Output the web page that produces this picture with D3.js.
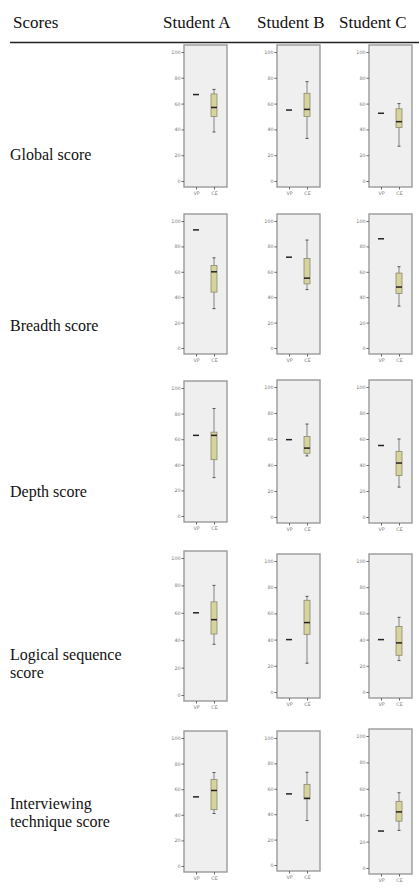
<!DOCTYPE html>
<html>
<head>
<meta charset="utf-8">
<script src="https://cdn.jsdelivr.net/npm/d3@7"></script>
<style>
  body { margin: 0; background: #fff; }
  svg { display: block; }
</style>
</head>
<body>
<div id="chart"></div>
<script>
// Table data
const students = ["Student A", "Student B", "Student C"];
const rowLabels = [
  ["Global score"],
  ["Breadth score"],
  ["Depth score"],
  ["Logical sequence", "score"],
  ["Interviewing", "technique score"]
];
const groups = ["VP", "CE"];
const yTicks = [0, 20, 40, 60, 80, 100];

// VP single score per row (Student A, B, C)
const vpGlobal = [67, 55, 52.5];
const vpBreadth = [93, 71.5, 86];
const vpDepth = [63, 59.5, 55];
const vpLogical = [60, 40, 40];
const vpInterview = [54, 56, 28];

// CE box stats [min, q1, median, q3, max] per student
const ceGlobal = [[38, 50, 57, 67.5, 71], [33, 50, 55.5, 68, 77], [27, 41.5, 46, 56, 60]];
const ceBreadth = [[31, 44, 60, 65, 71], [46, 50.5, 55, 70.5, 85], [33, 43, 48, 59, 64]];
const ceDepth = [[30, 44, 63, 65.5, 84], [47, 49, 53, 62, 71.5], [23, 32, 41.5, 50.5, 60]];
const ceLogical = [[37, 44.5, 55, 68, 80], [22, 44, 53, 70, 73], [24, 28, 37.5, 50, 57]];
const ceInterview = [[41, 44, 59, 67.5, 73], [35, 52, 52.5, 63.5, 73], [28.5, 35.5, 42.5, 50.5, 57]];

const vpRows = [vpGlobal, vpBreadth, vpDepth, vpLogical, vpInterview];
const ceRows = [ceGlobal, ceBreadth, ceDepth, ceLogical, ceInterview];

// Layout
const width = 419, height = 888;
const colX = [184, 277, 369];
const headX = [163, 257, 339];
const panelW = 43;
const panelBounds = [
  [[45, 187], [45, 187], [45, 187]],
  [[214, 354], [214, 354], [214, 354]],
  [[381, 522], [380, 523], [380, 523]],
  [[551, 701], [554, 698], [554, 698]],
  [[731, 872], [731, 871], [729, 874]]
];
const labelY = [160, 331, 497, 660, 809];
const boxFill = "#d6d39c";

const svg = d3.select("#chart").append("svg")
  .attr("width", width)
  .attr("height", height);

// Header
const serif = "'Liberation Serif', 'DejaVu Serif', serif";
svg.append("text")
  .attr("x", 13).attr("y", 28)
  .attr("font-family", serif).attr("font-size", 17)
  .attr("fill", "#111")
  .text("Scores");

svg.selectAll(".head")
  .data(students)
  .enter().append("text")
  .attr("x", (d, i) => headX[i])
  .attr("y", 28)
  .attr("font-family", serif).attr("font-size", 17)
  .attr("fill", "#111")
  .text(d => d);

svg.append("line")
  .attr("x1", 10).attr("x2", 419)
  .attr("y1", 42.5).attr("y2", 42.5)
  .attr("stroke", "#222").attr("stroke-width", 1.3);

// Row labels
rowLabels.forEach((lines, r) => {
  const t = svg.append("text")
    .attr("x", 10)
    .attr("y", labelY[r])
    .attr("font-family", serif).attr("font-size", 16)
    .attr("fill", "#111");
  lines.forEach((ln, k) => {
    t.append("tspan").attr("x", 10).attr("dy", k === 0 ? 0 : 18).text(ln);
  });
});

// Panels
rowLabels.forEach((_, r) => {
  students.forEach((_, c) => {
    const [top, bottom] = panelBounds[r][c];
    const x0 = colX[c];
    const g = svg.append("g");

    const y = d3.scaleLinear().domain([0, 100]).range([bottom - 6, top + 7]);
    const x = d3.scalePoint().domain(groups).range([x0 + 12, x0 + 30]);

    g.append("rect")
      .attr("x", x0).attr("y", top)
      .attr("width", panelW).attr("height", bottom - top)
      .attr("fill", "#efefef")
      .attr("stroke", "#9a9a9a").attr("stroke-width", 1.4);

    // y axis
    const yAxis = g.append("g")
      .attr("transform", `translate(${x0},0)`)
      .call(d3.axisLeft(y).tickValues(yTicks).tickSize(2.5).tickPadding(1));
    yAxis.select(".domain").remove();
    yAxis.selectAll("line").attr("stroke", "#666");
    yAxis.selectAll("text")
      .attr("font-size", 4.8).attr("fill", "#777")
      .attr("font-family", "'DejaVu Sans', sans-serif");

    // x axis
    const xAxis = g.append("g")
      .attr("transform", `translate(0,${bottom})`)
      .call(d3.axisBottom(x).tickSize(2.5).tickPadding(2));
    xAxis.select(".domain").remove();
    xAxis.selectAll("line").attr("stroke", "#666");
    xAxis.selectAll("text")
      .attr("font-size", 4.8).attr("fill", "#777")
      .attr("font-family", "'DejaVu Sans', sans-serif");

    // VP single value
    const vp = vpRows[r][c];
    g.append("line")
      .attr("x1", x("VP") - 3).attr("x2", x("VP") + 3)
      .attr("y1", y(vp)).attr("y2", y(vp))
      .attr("stroke", "#222").attr("stroke-width", 1.5);

    // CE box
    const [mn, q1, md, q3, mx] = ceRows[r][c];
    const cx = x("CE");
    const bw = 6;
    g.append("line")
      .attr("x1", cx).attr("x2", cx)
      .attr("y1", y(mx)).attr("y2", y(mn))
      .attr("stroke", "#777").attr("stroke-width", 0.9);
    [mn, mx].forEach(v => {
      g.append("line")
        .attr("x1", cx - 1.5).attr("x2", cx + 1.5)
        .attr("y1", y(v)).attr("y2", y(v))
        .attr("stroke", "#555").attr("stroke-width", 1);
    });
    g.append("rect")
      .attr("x", cx - bw / 2).attr("y", y(q3))
      .attr("width", bw).attr("height", y(q1) - y(q3))
      .attr("fill", boxFill)
      .attr("stroke", "#8a8a70").attr("stroke-width", 0.8);
    g.append("line")
      .attr("x1", cx - bw / 2).attr("x2", cx + bw / 2)
      .attr("y1", y(md)).attr("y2", y(md))
      .attr("stroke", "#222").attr("stroke-width", 1.5);
  });
});
</script>
</body>
</html>
